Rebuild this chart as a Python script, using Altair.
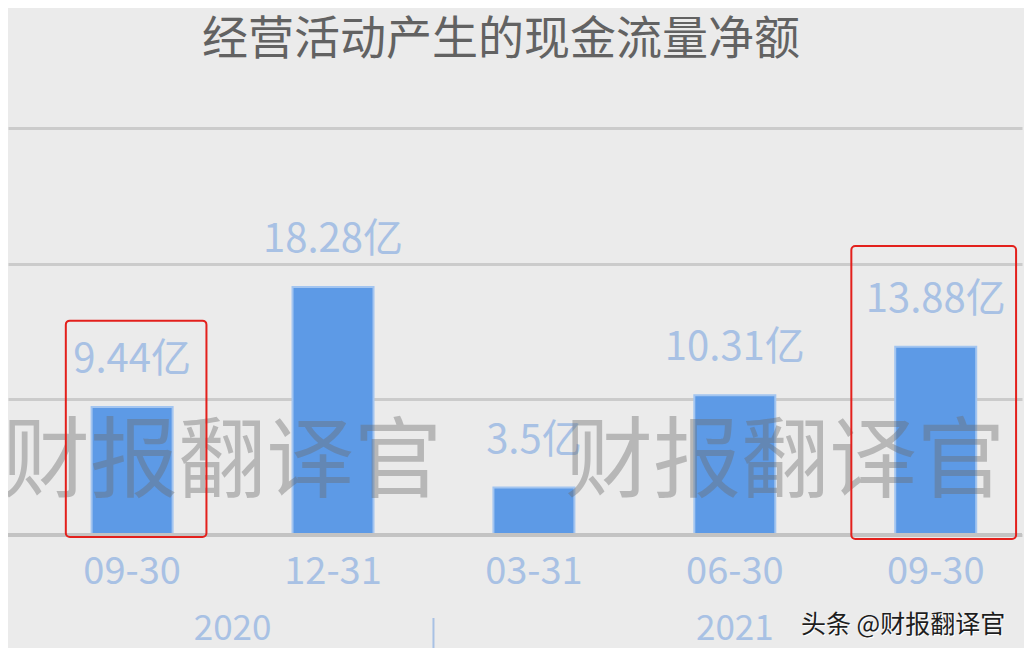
import altair as alt
import pandas as pd

# ---- data ----
periods = ["2020-09-30", "2020-12-31", "2021-03-31", "2021-06-30", "2021-09-30"]
tick_labels = ["09-30", "12-31", "03-31", "06-30", "09-30"]
years = ["2020", "2020", "2021", "2021", "2021"]
values = [9.44, 18.28, 3.5, 10.31, 13.88]
value_labels = ["9.44亿", "18.28亿", "3.5亿", "10.31亿", "13.88亿"]

# highlighted periods (red boxes): index, left/right extent (in bar-index units), top/bottom (in value units)
hl_idx = [0, 4]
hl_left = [-0.33, 3.58]
hl_right = [0.37, 4.40]
hl_top = [15.8, 21.3]
hl_bottom = [-0.15, -0.3]

watermark = ["财报翻译官"]
signature_text = ["头条 @财报翻译官"]

df = pd.DataFrame({
    "idx": list(range(len(periods))),
    "period": periods,
    "tick": tick_labels,
    "year": years,
    "value": values,
    "label": value_labels,
})
hl = pd.DataFrame({"idx": hl_idx, "x0": hl_left, "x1": hl_right, "top": hl_top, "bottom": hl_bottom})
sep = pd.DataFrame({"x": [i + 0.5 for i in range(len(years) - 1) if years[i] != years[i + 1]]})
wm_df = pd.DataFrame({"t": watermark})
sig_df = pd.DataFrame({"t": signature_text})

FONT = "Noto Sans CJK SC"
LABEL_BLUE = "#a8c1e4"
W, H = 1014, 407

xscale = alt.Scale(domain=[-0.5929, 4.4046], nice=False, zero=False)
yscale = alt.Scale(domain=[0, 30], nice=False)

base = alt.Chart(df)

bars = base.mark_bar(size=81, color="#5d9ae6", stroke="#a3c5f0", strokeWidth=2).encode(
    x=alt.X("idx:Q", scale=xscale, axis=None),
    y=alt.Y("value:Q", scale=yscale,
            axis=alt.Axis(values=[0, 10, 20, 30], grid=True, gridColor="#cbcbcb", gridWidth=3,
                          labels=False, ticks=False, domain=False, title=None)),
)

baseline = alt.Chart(sep).mark_rule(color="#c3c3c3", strokeWidth=4).encode(
    y=alt.datum(0, scale=yscale)
)

value_text = base.mark_text(dy=-35, baseline="alphabetic", fontSize=40, font=FONT,
                            color=LABEL_BLUE).encode(
    x=alt.X("idx:Q", scale=xscale), y=alt.Y("value:Q", scale=yscale), text="label:N"
)

tick_text = base.mark_text(baseline="middle", fontSize=38, font=FONT, color=LABEL_BLUE).encode(
    x=alt.X("idx:Q", scale=xscale), y=alt.value(H + 38), text="tick:N"
)

year_text = base.transform_aggregate(xm="mean(idx)", groupby=["year"]).mark_text(
    baseline="middle", fontSize=35, font=FONT, color=LABEL_BLUE).encode(
    x=alt.X("xm:Q", scale=xscale), y=alt.value(H + 94), text="year:N"
)

sep_rule = alt.Chart(sep).mark_rule(color=LABEL_BLUE, strokeWidth=2).encode(
    x=alt.X("x:Q", scale=xscale), y=alt.value(H + 83), y2=alt.value(H + 125)
)

boxes = alt.Chart(hl).mark_rect(fillOpacity=0, stroke="#e3201c", strokeWidth=2, cornerRadius=4).encode(
    x=alt.X("x0:Q", scale=xscale), x2="x1:Q",
    y=alt.Y("top:Q", scale=yscale), y2="bottom:Q",
)

WM_COLOR = "#6c6c6c"
wm1 = alt.Chart(wm_df).mark_text(fontSize=88, font=FONT, color=WM_COLOR, opacity=0.4,
                                 baseline="middle", align="center").encode(
    x=alt.value(214), y=alt.value(336), text="t:N")
wm2 = alt.Chart(wm_df).mark_text(fontSize=88, font=FONT, color=WM_COLOR, opacity=0.4,
                                 baseline="middle", align="center").encode(
    x=alt.value(777), y=alt.value(336), text="t:N")

sig_shadow = alt.Chart(sig_df).mark_text(fontSize=25, font=FONT, color="#ffffff", dx=1, dy=1,
                                         baseline="middle", align="center").encode(
    x=alt.value(895), y=alt.value(H + 90), text="t:N")
signature = alt.Chart(sig_df).mark_text(fontSize=25, font=FONT, color="#1e1e1e",
                                        baseline="middle", align="center").encode(
    x=alt.value(895), y=alt.value(H + 90), text="t:N")

chart = alt.layer(
    bars, baseline, value_text, tick_text, year_text, sep_rule, wm1, wm2, boxes, sig_shadow, signature
).properties(
    width=W, height=H,
    title=alt.TitleParams("经营活动产生的现金流量净额", fontSize=46, font=FONT, fontWeight="normal",
                          color="#626262", anchor="middle", dx=-14, offset=28, baseline="alphabetic"),
    autosize=alt.AutoSizeParams(type="none"),
    padding={"left": 0, "top": 120, "right": 2, "bottom": 113},
    background="#ebebeb",
).configure_view(stroke=None)

chart.save("out.html", embed_options={"renderer": "svg", "actions": False})
